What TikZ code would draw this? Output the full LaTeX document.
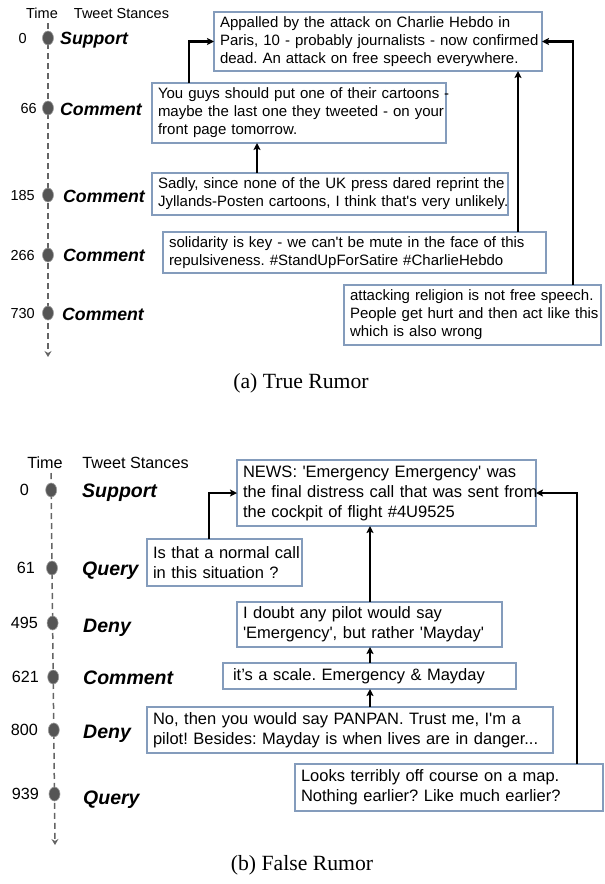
\documentclass[tikz,border=0pt]{standalone}
\usepackage{fontspec}
\newfontfamily\arialf{Liberation Sans}
\newfontfamily\timesf{Liberation Serif}
\usetikzlibrary{arrows.meta,shapes.geometric}
\frenchspacing
\definecolor{boxc}{RGB}{132,156,188}
\definecolor{dotc}{RGB}{85,85,85}
\definecolor{linec}{RGB}{100,100,100}
\tikzset{
  tw/.style={draw=boxc, line width=1.2pt, anchor=north west, align=left, inner xsep=6pt, inner ysep=2pt, outer sep=0pt},
  twa/.style={tw, font=\arialf\fontsize{15}{18}\selectfont},
  twb/.style={tw, font=\arialf\fontsize{16.5}{20}\selectfont},
  arr/.style={line width=2.2pt, -{Stealth[length=7pt,width=7pt,inset=1.5pt]}},
  tdot/.style={ellipse, fill=dotc, draw=gray!75, line width=0.6pt, minimum width=11pt, minimum height=14pt, inner sep=0pt},
  tline/.style={draw=linec, line width=1.5pt, dash pattern=on 6pt off 4pt, -{Stealth[length=6pt,width=7pt,inset=2pt]}},
  hda/.style={font=\arialf\fontsize{14.5}{17}\selectfont, anchor=base, inner sep=0pt},
  hdb/.style={font=\arialf\fontsize{16.2}{19}\selectfont, anchor=base, inner sep=0pt},
  numa/.style={font=\arialf\fontsize{14.5}{17}\selectfont, anchor=base east, inner sep=0pt},
  numb/.style={font=\arialf\fontsize{16.2}{19}\selectfont, anchor=base east, inner sep=0pt},
  sta/.style={font=\arialf\bfseries\itshape\fontsize{17.7}{20}\selectfont, anchor=base west, inner sep=0pt},
  stb/.style={font=\arialf\bfseries\itshape\fontsize{19.5}{22}\selectfont, anchor=base west, inner sep=0pt},
  capt/.style={font=\timesf\fontsize{21.7}{25}\selectfont, anchor=base, inner sep=0pt}
}
\begin{document}
\begin{tikzpicture}[x=1pt,y=-1pt]
\useasboundingbox (0,0) rectangle (605,884);

% ---------------- (a) True Rumor ----------------
\node[hda] (ha1) at (42,18) {Time};
\node[hda] (ha2) at (121.5,18) {Tweet Stances};
\coordinate (tatop) at (48,23);
\coordinate (tabot) at (48,357);
\draw[tline] (tatop) -- (tabot);
\node[tdot] (da1) at (48,38) {};
\node[tdot] (da2) at (48,108) {};
\node[tdot] (da3) at (48,195) {};
\node[tdot] (da4) at (48,255) {};
\node[tdot] (da5) at (48,313) {};
\node[numa] (na1) at (27,43.2) {0};
\node[numa] (na2) at (37,113.2) {66};
\node[numa] (na3) at (35,200.2) {185};
\node[numa] (na4) at (35,260.2) {266};
\node[numa] (na5) at (35,318.2) {730};
\node[sta] (sa1) at (60,44.3) {Support};
\node[sta] (sa2) at (60,115) {Comment};
\node[sta] (sa3) at (63,202) {Comment};
\node[sta] (sa4) at (63,261.3) {Comment};
\node[sta] (sa5) at (62,320) {Comment};

\node[twa, text width=316pt, minimum height=59pt] (A) at (214,12)
  {\mbox{Appalled by the attack on Charlie Hebdo in}\\\mbox{Paris, 10 - probably journalists - now confirmed}\\\mbox{dead. An attack on free speech everywhere.}};
\node[twa, text width=282pt, minimum height=60pt] (B) at (152,83)
  {\mbox{You guys should put one of their cartoons -}\\\mbox{maybe the last one they tweeted - on your}\\\mbox{front page tomorrow.}};
\node[twa, text width=344pt, minimum height=42pt] (C) at (152,173)
  {\mbox{Sadly, since none of the UK press dared reprint the}\\\mbox{Jyllands-Posten cartoons, I think that's very unlikely.}};
\node[twa, text width=371pt, minimum height=41pt] (D) at (163,232)
  {\mbox{solidarity is key - we can't be mute in the face of this}\\\mbox{repulsiveness. \#StandUpForSatire \#CharlieHebdo}};
\node[twa, text width=245pt, minimum height=60pt] (E) at (344,285)
  {\mbox{attacking religion is not free speech.}\\\mbox{People get hurt and then act like this}\\\mbox{which is also wrong}};

\coordinate (ab1) at ([xshift=37pt]B.north west);
\coordinate (ac1) at ([xshift=105pt]C.north west);
\coordinate (ad1) at ([xshift=355pt]D.north west);
\coordinate (ae1) at ([xshift=229pt]E.north west);
\draw[arr] (ab1) |- (A.west);
\draw[arr] (ac1) -- (ac1 |- B.south);
\draw[arr] (ad1) -- (ad1 |- A.south);
\draw[arr] (ae1) |- (A.east);

\node[capt] (capa) at (301,388) {(a) True Rumor};

% ---------------- (b) False Rumor ----------------
\node[hdb] (hb1) at (45,468) {Time};
\node[hdb] (hb2) at (135.5,468) {Tweet Stances};
\coordinate (tbtop) at (51,473);
\coordinate (tbbot) at (55,845);
\draw[tline] (tbtop) -- (tbbot);
\node[tdot] (db1) at (51.2,490) {};
\node[tdot] (db2) at (52.0,568) {};
\node[tdot] (db3) at (52.6,623) {};
\node[tdot] (db4) at (53.2,677) {};
\node[tdot] (db5) at (53.8,730) {};
\node[tdot] (db6) at (54.5,794) {};
\node[numb] (nb1) at (29,495.8) {0};
\node[numb] (nb2) at (35,573.8) {61};
\node[numb] (nb3) at (38,628.8) {495};
\node[numb] (nb4) at (39,682.8) {621};
\node[numb] (nb5) at (38,735.8) {800};
\node[numb] (nb6) at (39,799.8) {939};
\node[stb] (sb1) at (82,497) {Support};
\node[stb] (sb2) at (82,575) {Query};
\node[stb] (sb3) at (83,632) {Deny};
\node[stb] (sb4) at (83,684) {Comment};
\node[stb] (sb5) at (83,738) {Deny};
\node[stb] (sb6) at (83,804) {Query};

\node[twb, text width=287pt, minimum height=66pt] (N) at (237,460)
  {\mbox{NEWS: 'Emergency Emergency' was}\\\mbox{the final distress call that was sent from}\\\mbox{the cockpit of flight \#4U9525}};
\node[twb, text width=143pt, minimum height=47pt] (Q) at (147,539)
  {\mbox{Is that a normal call}\\\mbox{in this situation ?}};
\node[twb, text width=253pt, minimum height=45pt] (I) at (237,602)
  {\mbox{I doubt any pilot would say}\\\mbox{'Emergency', but rather 'Mayday'}};
\node[twb, text width=281pt, minimum height=26pt] (S) at (223,663)
  {\mbox{\hspace{4pt}it’s a scale. Emergency \& Mayday}};
\node[twb, text width=394pt, minimum height=46pt] (P) at (147,707)
  {\mbox{No, then you would say PANPAN. Trust me, I'm a}\\\mbox{pilot! Besides: Mayday is when lives are in danger...}};
\node[twb, text width=296pt, minimum height=47pt] (L) at (295,764)
  {\mbox{Looks terribly off course on a map.}\\\mbox{Nothing earlier? Like much earlier?}};

\coordinate (bq1) at ([xshift=62pt]Q.north west);
\coordinate (bi1) at ([xshift=133pt]I.north west);
\coordinate (bs1) at ([xshift=147pt]S.north west);
\coordinate (bp1) at ([xshift=223pt]P.north west);
\coordinate (bl1) at ([xshift=282pt]L.north west);
\draw[arr] (bq1) |- (N.west);
\draw[arr] (bi1) -- (bi1 |- N.south);
\draw[arr] (bs1) -- (bs1 |- I.south);
\draw[arr] (bp1) -- (bp1 |- S.south);
\draw[arr] (bl1) |- (N.east);

\node[capt] (capb) at (302,870) {(b) False Rumor};
\end{tikzpicture}
\end{document}
